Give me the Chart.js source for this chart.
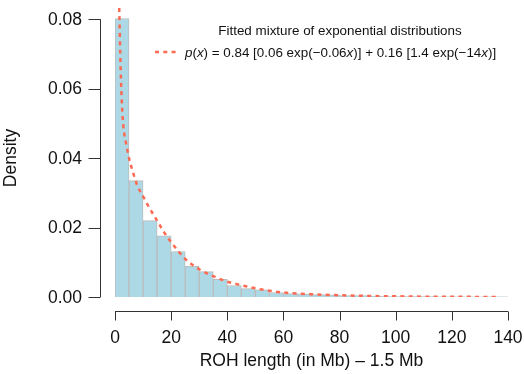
<!DOCTYPE html>
<html>
<head>
<meta charset="utf-8">
<script src="https://cdn.jsdelivr.net/npm/chart.js@4.4.1/dist/chart.umd.min.js"></script>
<style>
  html, body { margin: 0; padding: 0; background: #fff; }
  #wrap { width: 524px; height: 374px; }
</style>
</head>
<body>
<div id="wrap"><canvas id="rohChart" width="524" height="374"></canvas></div>
<script>
// histogram bins (5 Mb wide, centres) and densities
const binCentres = [2.5, 7.5, 12.5, 17.5, 22.5, 27.5, 32.5, 37.5, 42.5, 47.5, 52.5, 57.5, 62.5, 67.5,
  72.5, 77.5, 82.5, 87.5, 92.5, 97.5, 102.5, 107.5, 112.5, 117.5, 122.5, 127.5, 132.5, 137.5];
const binDensity = [0.0802, 0.0335, 0.0220, 0.0176, 0.0131, 0.0088, 0.0073, 0.0051, 0.0033, 0.0024, 0.0021, 0.0013, 0.0010, 0.0009,
  0.0007, 0.0006, 0.0004, 0.0004, 0.0002, 0.0001, 0.0001, 0.0001, 0.0001, 0.00006, 0.00006, 0.00006, 0.00006, 0.00006];

// fitted mixture curve, sampled from the figure
const fitX = [1.5, 2, 2.5, 3, 4, 5, 6, 8, 10, 12, 15, 18, 20, 25, 30, 35, 40, 45, 50, 55, 60, 70, 80, 90, 100, 110, 120, 130, 136];
const fitY = [0.0832, 0.066, 0.055, 0.049, 0.044, 0.040, 0.037, 0.032, 0.029, 0.026, 0.022, 0.018, 0.0158, 0.011, 0.0080,
  0.0060, 0.0044, 0.0034, 0.0025, 0.0018, 0.0013, 0.0008, 0.0005, 0.0003, 0.0002, 0.0001, 0.00006, 0.00003, 0.00002];

const xTicks = [0, 20, 40, 60, 80, 100, 120, 140];
const yTicks = [0, 0.02, 0.04, 0.06, 0.08];

const xTitle = 'ROH length (in Mb) \u2013 1.5 Mb';
const yTitle = 'Density';
const legendTitle = 'Fitted mixture of exponential distributions';
// [text, italic]
const legendFormula = [
  ['p', true], ['(', false], ['x', true], [') = 0.84 [0.06 exp(\u22120.06', false], ['x', true],
  [')] + 0.16 [1.4 exp(\u221214', false], ['x', true], [')]', false]
];

const FONT = '"Liberation Sans", Arial, Helvetica, sans-serif';
const LINE_COLOR = '#fb6a52';

// R-style detached axes, titles and legend
const baseAxes = {
  id: 'baseAxes',
  afterDraw(chart) {
    const { ctx, chartArea: area, scales: { x, y } } = chart;
    ctx.save();
    ctx.strokeStyle = '#333';
    ctx.lineWidth = 1;
    ctx.fillStyle = '#111';

    // y axis
    const yLineX = area.left - 15;
    ctx.beginPath();
    ctx.moveTo(yLineX + 0.5, y.getPixelForValue(yTicks[0]));
    ctx.lineTo(yLineX + 0.5, y.getPixelForValue(yTicks[yTicks.length - 1]));
    yTicks.forEach((v) => {
      const py = Math.round(y.getPixelForValue(v)) + 0.5;
      ctx.moveTo(yLineX + 0.5, py);
      ctx.lineTo(yLineX - 11.5, py);
    });
    ctx.stroke();
    ctx.font = `17.5px ${FONT}`;
    ctx.textAlign = 'right';
    ctx.textBaseline = 'middle';
    yTicks.forEach((v) => ctx.fillText(v.toFixed(2), yLineX - 18, y.getPixelForValue(v) + 1));

    // x axis
    const xLineY = area.bottom + 14;
    ctx.beginPath();
    ctx.moveTo(x.getPixelForValue(xTicks[0]), xLineY + 0.5);
    ctx.lineTo(x.getPixelForValue(xTicks[xTicks.length - 1]), xLineY + 0.5);
    xTicks.forEach((v) => {
      const px = Math.round(x.getPixelForValue(v)) + 0.5;
      ctx.moveTo(px, xLineY + 0.5);
      ctx.lineTo(px, xLineY + 9.5);
    });
    ctx.stroke();
    ctx.textAlign = 'center';
    ctx.textBaseline = 'alphabetic';
    xTicks.forEach((v) => ctx.fillText(String(v), x.getPixelForValue(v), xLineY + 31.5));

    // titles
    ctx.fillText(xTitle, (area.left + area.right) / 2, xLineY + 55);
    ctx.save();
    ctx.translate(16, 158);
    ctx.rotate(-Math.PI / 2);
    ctx.fillText(yTitle, 0, 0);
    ctx.restore();

    // legend
    ctx.font = `13.4px ${FONT}`;
    ctx.fillText(legendTitle, 340, 35);
    ctx.strokeStyle = LINE_COLOR;
    ctx.lineWidth = 2.5;
    ctx.setLineDash([4, 4.3]);
    ctx.beginPath();
    ctx.moveTo(155, 52);
    ctx.lineTo(177, 52);
    ctx.stroke();
    ctx.setLineDash([]);
    ctx.textAlign = 'left';
    let tx = 185;
    legendFormula.forEach(([txt, it]) => {
      ctx.font = `${it ? 'italic ' : ''}13.4px ${FONT}`;
      ctx.fillText(txt, tx, 57);
      tx += ctx.measureText(txt).width;
    });
    ctx.restore();
  }
};

const chart = new Chart(document.getElementById('rohChart'), {
  data: {
    datasets: [
      {
        type: 'line',
        label: 'fit',
        data: fitX.map((v, i) => ({ x: v, y: fitY[i] })),
        borderColor: LINE_COLOR,
        borderWidth: 2.5,
        borderDash: [4, 4.3],
        pointRadius: 0,
        cubicInterpolationMode: 'monotone',
        fill: false,
        order: 0,
      },
      {
        type: 'bar',
        label: 'hist',
        data: binCentres.map((v, i) => ({ x: v, y: binDensity[i] })),
        backgroundColor: '#add8e6',
        borderColor: '#bcbcbc',
        borderWidth: 1,
        barPercentage: 1,
        categoryPercentage: 1,
        grouped: false,
        order: 1,
      },
    ],
  },
  options: {
    responsive: false,
    animation: false,
    layout: { padding: { left: 115, right: 16, top: 7, bottom: 77 } },
    scales: {
      x: { type: 'linear', min: 0, max: 140, offset: false, display: false },
      y: { type: 'linear', min: 0, max: 0.0835, display: false },
    },
    plugins: {
      legend: { display: false },
      tooltip: { enabled: false },
    },
  },
  plugins: [baseAxes],
});
</script>
</body>
</html>
